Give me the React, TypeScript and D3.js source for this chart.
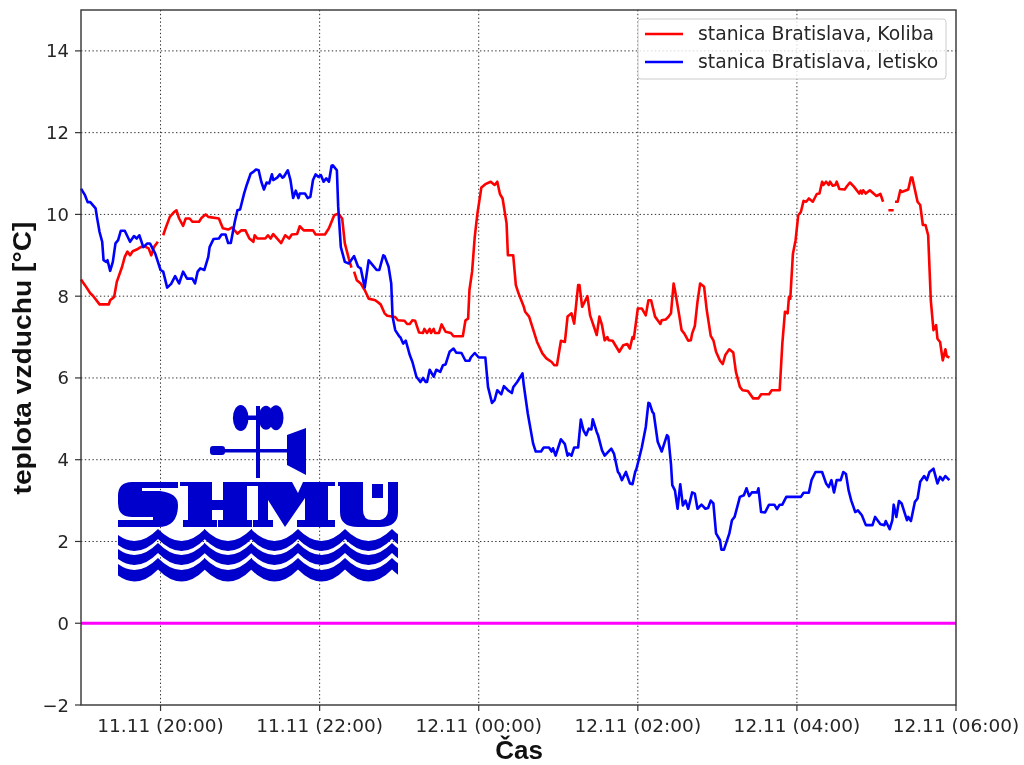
import React from 'react';
import * as d3 from 'd3';

// minutes after 19:00, temperature in °C
const letisko: [number, number][] = [[0,10.63],[3,10.47],[5,10.3],[7,10.3],[11,10.15],[12,9.94],[14,9.57],[16,9.33],[17,8.88],[19,8.84],[20,8.88],[22,8.62],[24,8.84],[26,9.29],[28,9.37],[30,9.6],[33,9.6],[37,9.33],[40,9.47],[42,9.41],[44,9.49],[47,9.2],[50,9.29],[52,9.29],[56,9.04],[60,8.64],[62,8.6],[65,8.21],[68,8.3],[71,8.49],[74,8.31],[77,8.6],[80,8.43],[84,8.43],[86,8.31],[88,8.6],[90,8.68],[93,8.64],[96,8.96],[97,9.2],[100,9.4],[104,9.41],[106,9.51],[109,9.51],[111,9.3],[113,9.3],[116,9.82],[118,10.1],[120,10.12],[123,10.51],[125,10.72],[128,11.0],[130,11.04],[132,11.1],[134,11.08],[136,10.8],[138,10.61],[140,10.78],[142,10.76],[144,10.98],[145,10.84],[148,10.9],[150,10.98],[152,10.9],[153,10.92],[156,11.08],[158,10.84],[160,10.4],[162,10.58],[164,10.4],[165,10.51],[169,10.51],[171,10.4],[173,10.43],[175,10.84],[177,10.98],[179,10.92],[181,10.96],[183,10.8],[185,10.88],[187,10.8],[189,11.19],[190,11.2],[193,11.08],[194,10.19],[196,9.2],[199,8.84],[202,8.8],[206,8.98],[209,8.72],[211,8.68],[214,8.21],[217,8.88],[220,8.76],[223,8.64],[225,8.64],[228,9.0],[229,8.98],[232,8.72],[234,8.31],[235,7.5],[237,7.17],[240,7.02],[241,6.99],[243,6.84],[245,6.91],[248,6.56],[250,6.39],[253,6.03],[256,5.9],[258,6.0],[260,5.9],[261,5.9],[263,6.2],[266,6.03],[268,6.2],[271,6.15],[273,6.31],[275,6.33],[278,6.64],[281,6.72],[283,6.62],[287,6.61],[290,6.42],[293,6.42],[294,6.5],[297,6.61],[300,6.5],[305,6.5],[307,5.78],[310,5.39],[312,5.46],[314,5.7],[317,5.6],[319,5.8],[322,5.7],[325,5.63],[326,5.77],[329,5.9],[333,6.11],[334,5.82],[337,5.13],[341,4.4],[343,4.2],[347,4.2],[349,4.3],[353,4.3],[355,4.2],[356,4.28],[358,4.1],[362,4.5],[365,4.38],[367,4.1],[368,4.15],[370,4.1],[372,4.3],[375,4.3],[377,4.98],[379,4.72],[381,4.6],[383,4.76],[385,4.74],[386,4.99],[389,4.68],[390,4.6],[393,4.23],[395,4.1],[400,4.27],[402,4.15],[405,3.7],[406,3.66],[408,3.5],[411,3.7],[414,3.42],[416,3.4],[418,3.7],[419,3.78],[423,4.3],[426,4.8],[428,5.39],[429,5.37],[431,5.17],[432,5.13],[435,4.44],[438,4.2],[442,4.6],[443,4.56],[445,3.9],[446,3.38],[448,3.25],[450,2.8],[452,3.4],[454,2.88],[456,3.0],[458,2.8],[461,3.2],[463,3.17],[465,2.8],[468,2.9],[471,2.8],[473,2.82],[475,3.0],[477,2.93],[479,2.2],[482,2.03],[483,1.8],[485,1.8],[489,2.19],[491,2.52],[493,2.6],[497,3.09],[500,3.13],[502,3.3],[504,3.11],[506,3.2],[510,3.2],[511,3.3],[513,2.72],[516,2.71],[519,2.9],[523,2.9],[525,2.79],[527,2.9],[529,2.9],[532,3.09],[543,3.09],[545,3.19],[549,3.19],[551,3.5],[554,3.7],[559,3.7],[562,3.42],[564,3.33],[566,3.5],[568,3.2],[570,3.5],[573,3.5],[575,3.7],[577,3.65],[579,3.25],[581,3.0],[584,2.72],[586,2.76],[589,2.64],[592,2.4],[597,2.4],[599,2.6],[603,2.42],[606,2.4],[607,2.5],[610,2.3],[612,2.52],[613,2.9],[615,2.6],[617,2.99],[619,2.93],[623,2.52],[624,2.6],[626,2.5],[629,2.97],[631,3.05],[633,3.46],[636,3.6],[638,3.5],[640,3.7],[643,3.78],[646,3.42],[648,3.58],[650,3.5],[652,3.6],[655,3.5]];

const koliba: [number, number][] = [[0,8.41],[3,8.27],[7,8.07],[9,8.01],[14,7.8],[21,7.8],[22,7.9],[25,7.98],[27,8.35],[31,8.72],[33,8.96],[35,9.09],[37,9.0],[39,9.1],[42,9.14],[45,9.2],[48,9.22],[51,9.17],[53,9.0],[55,9.2],[58,9.33],[60,NaN],[62,9.49],[64,9.68],[67,9.94],[70,10.05],[72,10.1],[74,9.9],[77,9.72],[79,9.9],[82,9.9],[84,9.82],[89,9.82],[91,9.92],[94,10.0],[96,9.94],[104,9.9],[107,9.66],[111,9.63],[114,9.68],[118,9.53],[121,9.61],[124,9.61],[127,9.41],[130,9.33],[131,9.49],[133,9.41],[139,9.41],[141,9.49],[143,9.41],[145,9.52],[148,9.41],[151,9.3],[154,9.49],[157,9.41],[159,9.51],[163,9.52],[165,9.71],[168,9.61],[175,9.61],[177,9.51],[184,9.51],[187,9.66],[191,9.98],[194,10.02],[197,9.9],[199,9.29],[202,8.92],[204,8.7],[205,NaN],[206,8.6],[208,8.39],[211,8.31],[214,8.15],[217,7.94],[222,7.9],[226,7.8],[229,7.58],[231,7.52],[237,7.49],[239,7.41],[244,7.4],[246,7.32],[248,7.32],[250,7.41],[252,7.4],[255,7.11],[258,7.1],[259,7.2],[261,7.1],[263,7.2],[264,7.1],[266,7.2],[267,7.1],[270,7.1],[272,7.31],[275,7.13],[279,7.1],[281,7.02],[288,7.02],[290,7.41],[292,7.45],[293,8.15],[295,8.6],[297,9.45],[299,10.02],[302,10.66],[305,10.74],[309,10.8],[312,10.72],[314,10.8],[316,10.5],[318,10.39],[321,9.78],[322,9.0],[326,9.0],[328,8.27],[330,8.07],[334,7.74],[335,7.62],[338,7.5],[344,6.88],[348,6.6],[351,6.48],[355,6.39],[357,6.31],[359,6.31],[362,6.91],[365,6.88],[367,7.5],[370,7.58],[372,7.33],[375,8.27],[376,8.27],[378,7.74],[382,8.0],[384,7.53],[389,7.05],[391,7.5],[393,7.29],[395,6.92],[397,7.0],[398,6.92],[401,6.91],[406,6.64],[409,6.8],[412,6.83],[414,6.72],[416,7.0],[417,6.96],[420,7.7],[423,7.7],[426,7.53],[428,7.9],[430,7.9],[433,7.5],[437,7.32],[438,7.41],[441,7.43],[443,7.49],[445,7.58],[447,8.31],[448,8.15],[451,7.58],[453,7.17],[455,7.09],[458,6.91],[460,6.92],[461,7.09],[463,7.27],[465,7.86],[467,8.31],[470,8.23],[472,7.66],[475,7.03],[477,6.92],[479,6.64],[482,6.42],[484,6.34],[486,6.56],[489,6.7],[492,6.62],[494,6.15],[497,5.78],[499,5.7],[503,5.68],[507,5.5],[511,5.5],[513,5.6],[519,5.6],[521,5.7],[527,5.7],[529,6.84],[531,7.62],[533,7.58],[534,7.98],[535,7.94],[537,9.04],[539,9.37],[541,9.98],[543,10.06],[545,10.33],[547,10.31],[549,10.39],[552,10.31],[555,10.5],[557,10.51],[559,10.8],[560,10.72],[562,10.8],[564,10.72],[565,10.8],[567,10.7],[569,10.72],[570,10.8],[572,10.62],[576,10.61],[578,10.7],[580,10.78],[583,10.68],[587,10.51],[588,10.58],[589,10.51],[590,10.59],[592,10.51],[595,10.59],[600,10.45],[603,10.5],[605,10.31],[607,NaN],[609,10.1],[613,10.1],[613.5,NaN],[614,10.31],[616,10.31],[618,10.59],[619,10.55],[624,10.61],[626,10.9],[627,10.9],[631,10.31],[633,10.23],[635,9.74],[637,9.74],[639,9.49],[641,7.9],[643,7.17],[645,7.29],[646,6.96],[648,6.88],[650,6.43],[652,6.7],[653,6.53],[655,6.5]];

const xTickMinutes = [60, 180, 300, 420, 540, 660];
const xTickLabels = ['11.11 (20:00)', '11.11 (22:00)', '12.11 (00:00)', '12.11 (02:00)', '12.11 (04:00)', '12.11 (06:00)'];
const yTicks = [-2, 0, 2, 4, 6, 8, 10, 12, 14];
const seriesNames = ['stanica Bratislava, Koliba', 'stanica Bratislava, letisko'];
const seriesColors = ['#ff0000', '#0000ff'];

const L = 81, R = 956, T = 10, B = 705;
const TXT = '#262626';
const FONT = 'DejaVu Sans';
const LOGO = '#0000cc';

function Logo() {
  const rows = [529, 543, 558];
  const thick = [10, 10, 11.5];
  const peaks = [111, 158, 204.5, 251, 298, 345, 392];
  const p = 47;
  const d = 24;
  const wave = (yp: number, th: number) =>
    peaks.map(x => `M${x},${yp}Q${x + p / 2},${yp + d} ${x + p},${yp}L${x + p},${yp + th}Q${x + p / 2},${yp + th + d} ${x},${yp + th}Z`).join('');
  return (
    <g fill={LOGO}>
      <clipPath id="logoClip"><rect x={118} y={470} width={280} height={120} /></clipPath>
      <g clipPath="url(#logoClip)">
        {rows.map((y, i) => <path key={i} d={wave(y, thick[i])} />)}
      </g>
      <path d="M132,482H178V488H142V491H160Q178,493 178,505Q178,527 158,527H118V520H153V517H132Q118,517 118,503V496Q118,482 132,482Z" />
      <path d="M180,482H212V500H223V482H247V520H252V527H218V520H223V510H212V520H217V527H183V520H188V486H180Z" />
      <path d="M247,482H292L298,493L303,482H335V486H328V520H335V527H297V520H305V498L285,527L268,500V520H273V527H253V520H258V486H247Z" />
      <path d="M338,482H363V510Q363,520 372,520H380Q388,518 388,510V482H398V512Q398,527 380,527H358Q340,527 340,512V486H338Z" />
      <rect x={372} y={484} width={11} height={14} />
      <rect x={256} y={406} width={4} height={72} />
      <rect x={241} y={415.5} width={24} height={4.5} />
      <ellipse cx={240.7} cy={418} rx={7.8} ry={13} />
      <ellipse cx={266} cy={417.7} rx={7.5} ry={12} />
      <ellipse cx={276} cy={417.7} rx={7.5} ry={12.5} />
      <rect x={222} y={449} width={66} height={3.5} />
      <rect x={210} y={446} width={15} height={9} rx={3} />
      <path d="M287,435L306,428V475L287,465Z" />
    </g>
  );
}

export default function App() {
  const x = d3.scaleLinear().domain([0, 660]).range([L, R]);
  const y = d3.scaleLinear().domain([-2, 15]).range([B, T]);
  const line = d3.line<[number, number]>()
    .defined(d => !Number.isNaN(d[1]))
    .x(d => x(d[0])).y(d => y(d[1]));
  const grid = { stroke: '#333', strokeWidth: 1, strokeDasharray: '1.4 2.4' };
  const lx = 645, lw = 38;
  return (
    <svg width={1024} height={765} viewBox="0 0 1024 765"
      style={{ position: 'absolute', left: 0, top: 0, background: '#fff', filter: 'blur(0.5px)' }}>
      {xTickMinutes.slice(0, -1).map(m => <line key={m} x1={x(m)} x2={x(m)} y1={T} y2={B} {...grid} />)}
      {yTicks.slice(1).map(v => <line key={v} x1={L} x2={R} y1={y(v)} y2={y(v)} {...grid} />)}
      <Logo />
      <line x1={L} x2={R} y1={y(0)} y2={y(0)} stroke="#ff00ff" strokeWidth={3} />
      <path d={line(koliba) ?? ''} fill="none" stroke={seriesColors[0]} strokeWidth={2.6} strokeLinejoin="round" />
      <path d={line(letisko) ?? ''} fill="none" stroke={seriesColors[1]} strokeWidth={2.6} strokeLinejoin="round" />
      <rect x={L} y={T} width={R - L} height={B - T} fill="none" stroke="#333" strokeWidth={1.4} />
      {xTickMinutes.map((m, i) => (
        <g key={m}>
          <line x1={x(m)} x2={x(m)} y1={B} y2={B + 6} stroke="#333" strokeWidth={1.2} />
          <text x={x(m)} y={732} textAnchor="middle" fontFamily={FONT} fontSize={18.5} fill={TXT}>{xTickLabels[i]}</text>
        </g>
      ))}
      {yTicks.map(v => (
        <g key={v}>
          <line x1={L - 6} x2={L} y1={y(v)} y2={y(v)} stroke="#333" strokeWidth={1.2} />
          <text x={69} y={y(v) + 6.5} textAnchor="end" fontFamily={FONT} fontSize={18} fill={TXT}>{v < 0 ? `\u2212${-v}` : v}</text>
        </g>
      ))}
      <text x={519} y={759} textAnchor="middle" fontFamily="Liberation Sans" fontWeight="bold" fontSize={26} fill="#111">Čas</text>
      <text transform="translate(31,358) rotate(-90)" textAnchor="middle" fontFamily="Liberation Sans" fontWeight="bold" fontSize={25} textLength={273} lengthAdjust="spacingAndGlyphs" fill="#111">teplota vzduchu [°C]</text>
      <rect x={638} y={19} width={308} height={60} rx={3} fill="#fff" fillOpacity={0.8} stroke="#ccc" strokeWidth={1} />
      {seriesNames.map((n, i) => (
        <g key={n}>
          <line x1={lx} x2={lx + lw} y1={34 + i * 28} y2={34 + i * 28} stroke={seriesColors[i]} strokeWidth={2.4} />
          <text x={698} y={40 + i * 28} fontFamily={FONT} fontSize={18.8} fill={TXT}>{n}</text>
        </g>
      ))}
    </svg>
  );
}
